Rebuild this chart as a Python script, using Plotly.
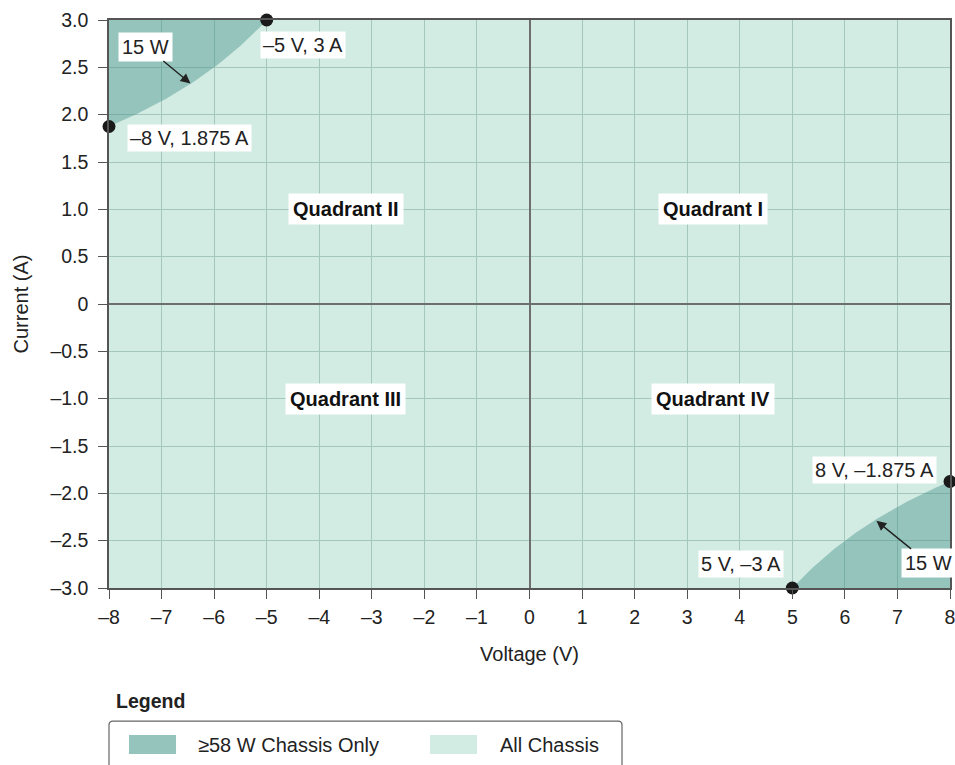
import numpy as np
import plotly.graph_objects as go

# ---------------- data ----------------
POWER_W = 15.0                      # constant-power boundary (I = -P / V)
V_RANGE = [-8, 8]
I_RANGE = [-3, 3]

# corner points of the >=58 W regions
corner_v = [-5, -8, 5, 8]
corner_i = [3, 1.875, -3, -1.875]
corner_labels = ["–5 V, 3 A", "–8 V, 1.875 A", "5 V, –3 A", "8 V, –1.875 A"]

# tick labels
x_tickvals = list(range(-8, 9))
x_ticktext = [("–" + str(-v)) if v < 0 else str(v) for v in x_tickvals]
y_tickvals = [3.0, 2.5, 2.0, 1.5, 1.0, 0.5, 0.0, -0.5, -1.0, -1.5, -2.0, -2.5, -3.0]
y_ticktext = ["3.0", "2.5", "2.0", "1.5", "1.0", "0.5", "0",
              "–0.5", "–1.0", "–1.5", "–2.0", "–2.5", "–3.0"]

quadrant_names = ["Quadrant I", "Quadrant II", "Quadrant III", "Quadrant IV"]
quadrant_v = [3.5, -3.5, -3.5, 3.5]
quadrant_i = [1.0, 1.0, -1.0, -1.0]

legend_items = ["≥58 W Chassis Only", "All Chassis"]

# ---------------- styles ----------------
FONT = "Liberation Sans, Arial, sans-serif"
TXT = "#222222"
LIGHT = "rgb(210,235,227)"
DARK_SOLID = "rgb(148,196,188)"
DARK_FILL = "rgba(60,140,130,0.41)"
GRID = "rgb(163,199,189)"
AXIS = "#555555"
FS = 19.5

fig = go.Figure()

# Quadrant II region (V from -8 to -5, above the 15 W curve)
v2 = np.linspace(corner_v[1], corner_v[0], 60)
i2 = -POWER_W / v2
fig.add_trace(go.Scatter(
    x=list(v2) + [corner_v[0], corner_v[1]],
    y=list(i2) + [I_RANGE[1], I_RANGE[1]],
    fill="toself", fillcolor=DARK_FILL, line=dict(width=0),
    mode="lines", hoverinfo="skip", showlegend=False))

# Quadrant IV region (V from 5 to 8, below the 15 W curve)
v4 = np.linspace(corner_v[2], corner_v[3], 60)
i4 = -POWER_W / v4
fig.add_trace(go.Scatter(
    x=list(v4) + [corner_v[3], corner_v[2]],
    y=list(i4) + [I_RANGE[0], I_RANGE[0]],
    fill="toself", fillcolor=DARK_FILL, line=dict(width=0),
    mode="lines", hoverinfo="skip", showlegend=False))

# corner markers
fig.add_trace(go.Scatter(
    x=corner_v, y=corner_i, mode="markers",
    marker=dict(size=13, color="#1a1a1a"),
    cliponaxis=False, showlegend=False, hoverinfo="skip"))

ann = []
lbl_font = dict(family=FONT, size=20, color=TXT)
# corner point labels
lbl_pos = [(-4.31, 2.736), (-6.47, 1.75), (4.02, -2.75), (6.57, -1.75)]
for txt, (px, py) in zip(corner_labels, lbl_pos):
    ann.append(dict(x=px, y=py, xref="x", yref="y", text=txt, showarrow=False,
                    font=lbl_font, bgcolor="white", borderpad=2))

# 15 W labels with arrows
ann.append(dict(x=-6.45, y=2.33, ax=-7.3, ay=2.72, axref="x", ayref="y",
                xref="x", yref="y", text=f"{POWER_W:.0f} W", showarrow=True,
                arrowhead=2, arrowsize=1.4, arrowwidth=1.4, arrowcolor="#222",
                font=lbl_font, bgcolor="white", borderpad=3))
ann.append(dict(x=6.6, y=-2.29, ax=7.6, ay=-2.74, axref="x", ayref="y",
                xref="x", yref="y", text=f"{POWER_W:.0f} W", showarrow=True,
                arrowhead=2, arrowsize=1.4, arrowwidth=1.4, arrowcolor="#222",
                font=lbl_font, bgcolor="white", borderpad=3))

# quadrant labels
for name, qx, qy in zip(quadrant_names, quadrant_v, quadrant_i):
    ann.append(dict(x=qx, y=qy, xref="x", yref="y", text=f"<b>{name}</b>",
                    showarrow=False, font=dict(family=FONT, size=20, color="#111"),
                    bgcolor="white", borderpad=4))

# legend (drawn manually below the chart)
ann.append(dict(x=0.006, y=-0.199, xref="paper", yref="paper", text="<b>Legend</b>",
                showarrow=False, xanchor="left", yanchor="middle",
                font=dict(family=FONT, size=19.5, color=TXT)))
ann.append(dict(x=0.1034, y=-0.2764, xref="paper", yref="paper", text=legend_items[0],
                showarrow=False, xanchor="left", yanchor="middle", font=lbl_font))
ann.append(dict(x=0.4625, y=-0.2764, xref="paper", yref="paper", text=legend_items[1],
                showarrow=False, xanchor="left", yanchor="middle", font=lbl_font))

# rounded legend frame (paper coords; corner radius ~4 px)
rx, ry = 4 / 841, 4 / 568
x0, x1, ytop, ybot = 0.0, 0.61, -0.2342, -0.45
frame_path = (f"M {x0},{ybot} L {x0},{ytop - ry} Q {x0},{ytop} {x0 + rx},{ytop} "
              f"L {x1 - rx},{ytop} Q {x1},{ytop} {x1},{ytop - ry} L {x1},{ybot}")
shapes = [
    dict(type="path", xref="paper", yref="paper", path=frame_path,
         line=dict(color="#666", width=1.2), layer="above"),
    dict(type="rect", xref="paper", yref="paper", x0=0.0238, x1=0.0797, y0=-0.2923, y1=-0.2588,
         line=dict(width=0), fillcolor=DARK_SOLID, layer="above"),
    dict(type="rect", xref="paper", yref="paper", x0=0.3817, x1=0.4376, y0=-0.2923, y1=-0.2588,
         line=dict(width=0), fillcolor=LIGHT, layer="above"),
]

fig.update_layout(
    width=955, height=765,
    margin=dict(l=109, r=5, t=20, b=177, autoexpand=False),
    paper_bgcolor="white", plot_bgcolor=LIGHT,
    font=dict(family=FONT, size=FS, color=TXT),
    annotations=ann, shapes=shapes, showlegend=False,
)
fig.update_xaxes(
    range=V_RANGE, tickvals=x_tickvals, ticktext=x_ticktext,
    showgrid=True, gridcolor=GRID, gridwidth=1,
    zeroline=True, zerolinecolor="#6e6e6e", zerolinewidth=1.5,
    showline=True, mirror=True, linecolor=AXIS, linewidth=1.5,
    ticks="outside", ticklen=9, tickcolor=AXIS, tickwidth=1.2,
    ticklabelstandoff=2, automargin=False, ticklabeloverflow="allow",
    tickfont=dict(family=FONT, size=FS, color=TXT),
    title=dict(text="Voltage (V)", font=dict(family=FONT, size=20, color=TXT), standoff=20),
    fixedrange=True,
)
fig.update_yaxes(
    range=I_RANGE, tickvals=y_tickvals, ticktext=y_ticktext,
    showgrid=True, gridcolor=GRID, gridwidth=1,
    zeroline=True, zerolinecolor="#6e6e6e", zerolinewidth=1.5,
    showline=True, mirror=True, linecolor=AXIS, linewidth=1.5,
    ticks="outside", ticklen=9, tickcolor=AXIS, tickwidth=1.2,
    ticklabelstandoff=6, automargin=False, ticklabeloverflow="allow",
    tickfont=dict(family=FONT, size=FS, color=TXT),
    title=dict(text="Current (A)", font=dict(family=FONT, size=20, color=TXT), standoff=16),
    fixedrange=True,
)

fig.write_html("out.html", config={"displayModeBar": False},
               post_script="document.body.style.margin='0';document.body.style.overflow='hidden';")
